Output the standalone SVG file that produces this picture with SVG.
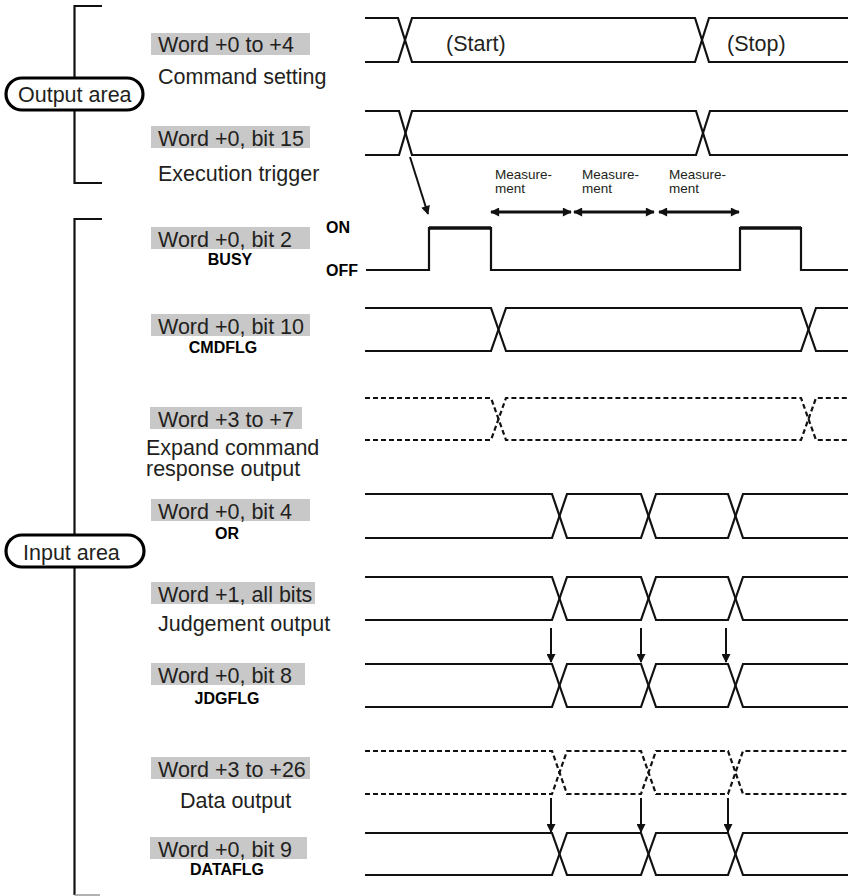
<svg xmlns="http://www.w3.org/2000/svg" width="848" height="896" viewBox="0 0 848 896">
<style>
text{font-family:"Liberation Sans",Arial,sans-serif;fill:#231f20}
.lbl{font-size:21.5px}
.sm{font-size:16px;font-weight:bold;fill:#000}
.ms{font-size:13.5px}
.box{fill:#c8c8c8}
.sig{fill:none;stroke:#111;stroke-width:2.2;stroke-linejoin:miter}
.dash{fill:none;stroke:#111;stroke-width:2.2;stroke-dasharray:5 3}
.br{fill:none;stroke:#111;stroke-width:2.2}
.pill{fill:#fff;stroke:#000;stroke-width:3.2}
.arr{fill:none;stroke:#111;stroke-width:2}
.marr{fill:none;stroke:#111;stroke-width:2.8}
</style>
<defs>
<marker id="ah" viewBox="0 0 10 10" refX="9" refY="5" markerWidth="11" markerHeight="9" orient="auto-start-reverse" markerUnits="userSpaceOnUse">
<path d="M0,0 L10,5 L0,10 Z" fill="#111"/>
</marker>
<marker id="ahs" viewBox="0 0 10 10" refX="9" refY="5" markerWidth="10" markerHeight="9" orient="auto" markerUnits="userSpaceOnUse">
<path d="M0,0 L10,5 L0,10 Z" fill="#111"/>
</marker>
</defs>

<g id="output-area">
<path class="br" d="M102,6 H74.5 V183 H102"/>
<rect class="pill" x="6" y="78" width="137" height="32" rx="16"/>
<text class="lbl" x="18" y="102">Output area</text>
</g>

<g id="input-area">
<path class="br" d="M102,219 H74.5 V895"/>
<path d="M74.5,895 H100" stroke="#999" stroke-width="1.5"/>
<rect class="pill" x="6" y="535" width="138" height="32" rx="16"/>
<text class="lbl" x="23" y="560">Input area</text>
</g>

<g id="command-setting">
<rect class="box" x="151" y="33" width="159" height="22"/>
<text class="lbl" x="158" y="52">Word +0 to +4</text>
<text class="lbl" x="158" y="84">Command setting</text>
<path class="sig" d="M365,18 H398 L412,62 H695 L709,18 H848"/>
<path class="sig" d="M365,62 H398 L412,18 H695 L709,62 H848"/>
<text class="lbl" x="446" y="51">(Start)</text>
<text class="lbl" x="727" y="51">(Stop)</text>
</g>

<g id="execution-trigger">
<rect class="box" x="151" y="126" width="159" height="22"/>
<text class="lbl" x="158" y="146">Word +0, bit 15</text>
<text class="lbl" x="158" y="181">Execution trigger</text>
<path class="sig" d="M365,111 H399 L412,155 H696 L710,111 H848"/>
<path class="sig" d="M365,155 H399 L412,111 H696 L710,155 H848"/>
</g>

<g id="measurement">
<text class="ms" x="495" y="179">Measure-</text>
<text class="ms" x="495" y="193">ment</text>
<text class="ms" x="582" y="179">Measure-</text>
<text class="ms" x="582" y="193">ment</text>
<text class="ms" x="669" y="179">Measure-</text>
<text class="ms" x="669" y="193">ment</text>
</g>

<g id="busy">
<rect class="box" x="151" y="227" width="159" height="22"/>
<text class="lbl" x="158" y="247">Word +0, bit 2</text>
<text class="sm" x="230" y="265" text-anchor="middle">BUSY</text>
<text class="sm" x="326" y="233">ON</text>
<text class="sm" x="326" y="276">OFF</text>
<path class="sig" d="M366,270 H429 V228 H491 V270 H740 V228 H801 V270 H848"/>
<path d="M429,228 H491 M740,228 H801" stroke="#111" stroke-width="3.5"/>
</g>

<g id="cmdflg">
<rect class="box" x="151" y="314" width="159" height="22"/>
<text class="lbl" x="158" y="334">Word +0, bit 10</text>
<text class="sm" x="223" y="353" text-anchor="middle">CMDFLG</text>
<path class="sig" d="M365,308 H491 L506,351 H801 L816,308 H848"/>
<path class="sig" d="M365,351 H491 L506,308 H801 L816,351 H848"/>
</g>

<g id="expand-command">
<rect class="box" x="150" y="407" width="152" height="22"/>
<text class="lbl" x="158" y="427">Word +3 to +7</text>
<text class="lbl" x="146" y="455">Expand command</text>
<text class="lbl" x="146" y="476">response output</text>
<path class="dash" d="M365,398 H491 L506,440 H801 L816,398 H848"/>
<path class="dash" d="M365,440 H491 L506,398 H801 L816,440 H848"/>
</g>

<g id="or">
<rect class="box" x="151" y="499" width="159" height="22"/>
<text class="lbl" x="158" y="519">Word +0, bit 4</text>
<text class="sm" x="227" y="539" text-anchor="middle">OR</text>
<path class="sig" d="M365,494 H552 L567,538 H641 L656,494 H728 L743,538 H848"/>
<path class="sig" d="M365,538 H552 L567,494 H641 L656,538 H728 L743,494 H848"/>
</g>

<g id="judgement-output">
<rect class="box" x="151" y="582" width="164" height="22"/>
<text class="lbl" x="158" y="602">Word +1, all bits</text>
<text class="lbl" x="158" y="631">Judgement output</text>
<path class="sig" d="M365,577 H552 L567,620 H641 L656,577 H728 L743,620 H848"/>
<path class="sig" d="M365,620 H552 L567,577 H641 L656,620 H728 L743,577 H848"/>
</g>

<g id="jdgflg">
<rect class="box" x="151" y="663" width="154" height="22"/>
<text class="lbl" x="158" y="683">Word +0, bit 8</text>
<text class="sm" x="227" y="704" text-anchor="middle">JDGFLG</text>
<path class="sig" d="M365,664 H552 L567,707 H641 L656,664 H728 L743,707 H848"/>
<path class="sig" d="M365,707 H552 L567,664 H641 L656,707 H728 L743,664 H848"/>
</g>

<g id="data-output">
<rect class="box" x="151" y="757" width="159" height="22"/>
<text class="lbl" x="158" y="777">Word +3 to +26</text>
<text class="lbl" x="180" y="808">Data output</text>
<path class="dash" d="M365,751 H552 L567,794 H641 L656,751 H728 L743,794 H848"/>
<path class="dash" d="M365,794 H552 L567,751 H641 L656,794 H728 L743,751 H848"/>
</g>

<g id="dataflg">
<rect class="box" x="150" y="837" width="157" height="22"/>
<text class="lbl" x="158" y="857">Word +0, bit 9</text>
<text class="sm" x="227" y="875" text-anchor="middle">DATAFLG</text>
<path class="sig" d="M365,833 H552 L567,875 H641 L656,833 H728 L743,875 H848"/>
<path class="sig" d="M365,875 H552 L567,833 H641 L656,875 H728 L743,833 H848"/>
</g>

<g id="connectors">
<line class="arr" x1="410" y1="157" x2="428" y2="214" marker-end="url(#ahs)"/>
<line class="marr" x1="491" y1="212" x2="571" y2="212" marker-start="url(#ah)" marker-end="url(#ah)"/>
<line class="marr" x1="574" y1="212" x2="654" y2="212" marker-start="url(#ah)" marker-end="url(#ah)"/>
<line class="marr" x1="659" y1="212" x2="739" y2="212" marker-start="url(#ah)" marker-end="url(#ah)"/>
<line class="arr" x1="551" y1="628" x2="551" y2="662" marker-end="url(#ahs)"/>
<line class="arr" x1="641" y1="628" x2="641" y2="662" marker-end="url(#ahs)"/>
<line class="arr" x1="726" y1="628" x2="726" y2="662" marker-end="url(#ahs)"/>
<line class="arr" x1="551" y1="798" x2="551" y2="832" marker-end="url(#ahs)"/>
<line class="arr" x1="641" y1="798" x2="641" y2="832" marker-end="url(#ahs)"/>
<line class="arr" x1="728" y1="798" x2="728" y2="832" marker-end="url(#ahs)"/>
</g>
</svg>
